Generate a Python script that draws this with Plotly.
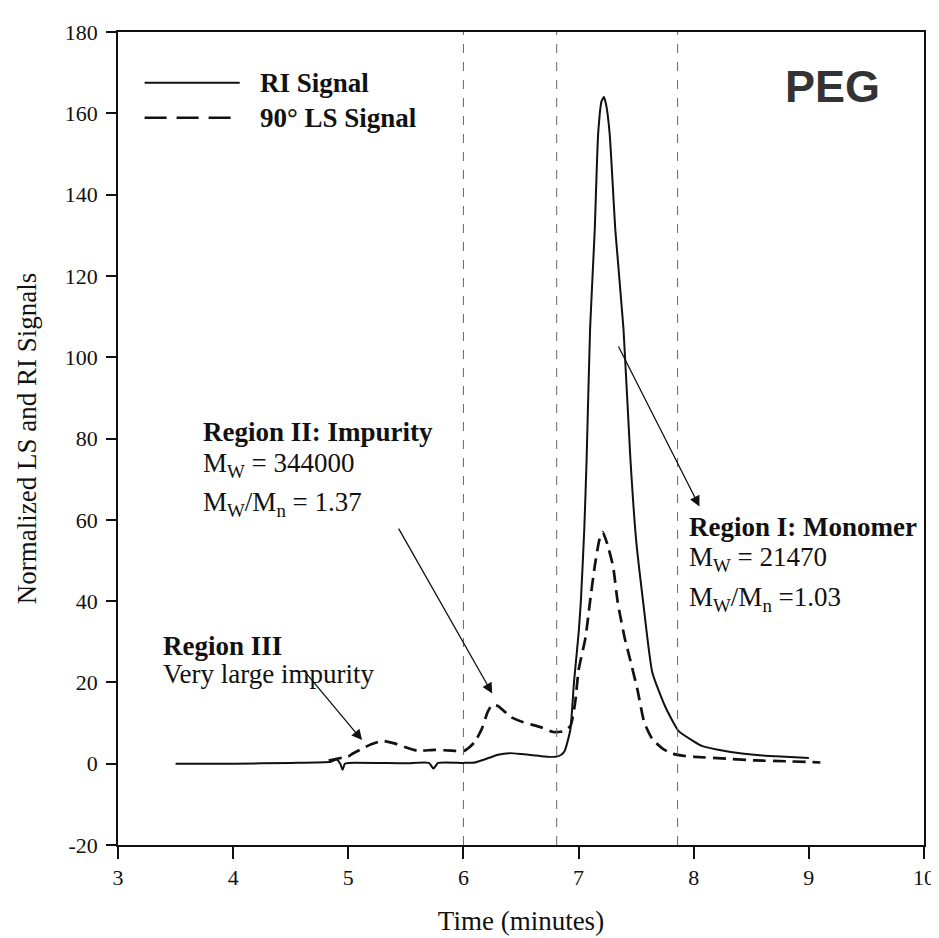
import plotly.graph_objects as go

# ---------------- data ----------------
ri_time = [3.5, 4.0, 4.5, 4.85, 4.9, 4.93, 4.95, 4.97, 5.0, 5.5, 5.7, 5.74, 5.78, 6.0,
           6.1, 6.2, 6.3, 6.4, 6.5, 6.6, 6.7, 6.8, 6.85, 6.88, 6.9, 6.93, 6.96, 7.0,
           7.02, 7.05, 7.07, 7.10, 7.14, 7.17, 7.20, 7.22, 7.24, 7.27, 7.32, 7.39,
           7.45, 7.50, 7.56, 7.64, 7.75, 7.87, 8.0, 8.07, 8.2, 8.42, 8.6, 8.8, 9.0]
ri_signal = [0, 0, 0.2, 0.5, 1.0, 0, -1.5, 0, 0.2, 0.1, 0.2, -1.2, 0.2, 0.2,
             0.3, 1.2, 2.2, 2.6, 2.4, 2.1, 1.8, 1.7, 2.2, 3.2, 5, 8.6, 20, 32,
             40, 58, 75, 107, 131, 155, 163, 164, 162, 155, 131, 107,
             75, 55, 40, 22.5, 14.2, 8, 5.5, 4.4, 3.5, 2.5, 2.0, 1.7, 1.4]

ls_time = [4.83, 4.9, 4.95, 5.0, 5.04, 5.12, 5.2, 5.3, 5.4, 5.49, 5.6, 5.75, 5.9, 6.0,
           6.05, 6.1, 6.16, 6.21, 6.25, 6.3, 6.35, 6.41, 6.52, 6.67, 6.78, 6.87, 6.93,
           6.97, 7.0, 7.06, 7.1, 7.14, 7.18, 7.21, 7.25, 7.30, 7.34, 7.40, 7.44, 7.51,
           7.57, 7.64, 7.73, 7.81, 7.9, 8.01, 8.3, 8.53, 8.8, 9.1]
ls_signal = [0.8, 1.2, 1.5, 1.8, 2.5, 3.7, 4.8, 5.6, 5.0, 4.1, 3.2, 3.4, 3.2, 3.1,
             4.0, 5.4, 8.6, 12.7, 14.5, 14.2, 13.0, 11.5, 10.2, 9.0, 7.8, 8.0, 9.3,
             15, 23, 31, 40, 48.5, 55, 57, 54, 48.5, 39.7, 31, 26.5, 18.4,
             10.2, 6.1, 3.7, 2.5, 2.0, 1.7, 1.2, 0.8, 0.6, 0.3]

region_bounds = [6.0, 6.81, 7.86]
x_ticks = [3, 4, 5, 6, 7, 8, 9, 10]
y_ticks = [-20, 0, 20, 40, 60, 80, 100, 120, 140, 160, 180]
y_tick_text = ["-20", "0", "20", "40", "60", "80", "100", "120", "140", "160", "180"]

SERIF = "Liberation Serif"
INK = "#111111"
TXT = 27

fig = go.Figure()
fig.add_trace(go.Scatter(x=ri_time, y=ri_signal, mode="lines", name="RI Signal",
                         line=dict(color=INK, width=2, shape="spline", smoothing=0.5)))
fig.add_trace(go.Scatter(x=ls_time, y=ls_signal, mode="lines", name="90° LS Signal",
                         line=dict(color=INK, width=2.7, dash="13px,7px",
                                   shape="spline", smoothing=0.5)))

for xb in region_bounds:
    fig.add_shape(type="line", xref="x", yref="y", x0=xb, x1=xb, y0=-20, y1=180,
                  line=dict(color="#666666", width=1, dash="dash"))

# legend drawn by hand (long line samples like the original)
fig.add_shape(type="line", xref="paper", yref="paper", x0=0.033, x1=0.151,
              y0=0.9375, y1=0.9375, line=dict(color=INK, width=2))
fig.add_shape(type="line", xref="paper", yref="paper", x0=0.033, x1=0.151,
              y0=0.8946, y1=0.8946, line=dict(color=INK, width=2.6, dash="22px,10px"))
fig.add_annotation(xref="paper", yref="paper", x=0.174, y=0.9375, xanchor="left",
                   yanchor="middle", showarrow=False, text="<b>RI Signal</b>",
                   font=dict(family=SERIF, size=TXT, color=INK))
fig.add_annotation(xref="paper", yref="paper", x=0.174, y=0.8946, xanchor="left",
                   yanchor="middle", showarrow=False, text="<b>90° LS Signal</b>",
                   font=dict(family=SERIF, size=TXT, color=INK))
fig.add_annotation(xref="paper", yref="paper", x=0.886, y=0.933, xanchor="center",
                   yanchor="middle", showarrow=False, text="<b>PEG</b>",
                   font=dict(family="Liberation Sans", size=45, color="#333333"))

def label(x, y, text, bold=False):
    fig.add_annotation(xref="x", yref="y", x=x, y=y, xanchor="left", yanchor="middle",
                       showarrow=False, text=(f"<b>{text}</b>" if bold else text),
                       font=dict(family=SERIF, size=TXT, color=INK))

def arrow(x0, y0, x1, y1):
    fig.add_annotation(xref="x", yref="y", axref="x", ayref="y", x=x1, y=y1, ax=x0, ay=y0,
                       text="", showarrow=True, arrowhead=2, arrowsize=1.6,
                       arrowwidth=1.3, arrowcolor=INK)

# Region II
label(3.72, 81.5, "Region II: Impurity", bold=True)
label(3.72, 73.5, "M<sub>W</sub> = 344000")
label(3.72, 64.0, "M<sub>W</sub>/M<sub>n</sub> = 1.37")
arrow(5.43, 58.2, 6.25, 17.3)

# Region III
label(3.37, 29.0, "Region III", bold=True)
label(3.37, 22.0, "Very large impurity")
arrow(4.63, 22.4, 5.12, 5.8)

# Region I
label(7.94, 58.2, "Region I: Monomer", bold=True)
label(7.94, 50.3, "M<sub>W</sub> = 21470")
label(7.94, 40.5, "M<sub>W</sub>/M<sub>n</sub> =1.03")
arrow(7.34, 103, 8.05, 63.3)

axis_common = dict(showline=True, linecolor=INK, linewidth=1.5, mirror=True,
                   showgrid=False, zeroline=False, ticks="outside",
                   tickcolor=INK, tickwidth=1.5,
                   tickfont=dict(family=SERIF, size=22, color=INK))

fig.update_layout(
    width=939, height=938,
    margin=dict(l=110, r=15, t=21, b=101),
    paper_bgcolor="white", plot_bgcolor="white",
    showlegend=False,
    xaxis=dict(range=[3, 10], tickvals=x_ticks, ticklen=12,
               title=dict(text="Time (minutes)", standoff=22,
                          font=dict(family=SERIF, size=27, color=INK)),
               **axis_common),
    yaxis=dict(range=[-20, 180], tickvals=y_ticks, ticktext=y_tick_text, ticklen=10,
               ticklabelstandoff=4,
               title=dict(text="Normalized LS and RI Signals", standoff=20,
                          font=dict(family=SERIF, size=27, color=INK)),
               **axis_common),
)

fig.write_html("out.html")
